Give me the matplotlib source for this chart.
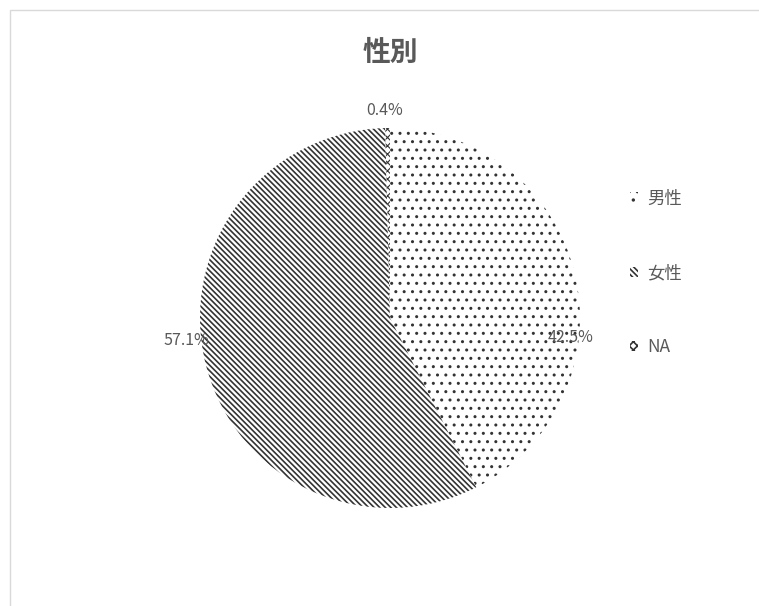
import matplotlib.pyplot as plt
import matplotlib.patches as mpatches

plt.rcParams['font.family'] = ['Noto Sans CJK JP', 'DejaVu Sans']
plt.rcParams['hatch.linewidth'] = 1.2

title = "性別"
labels = ["男性", "女性", "NA"]
values = [42.5, 57.1, 0.4]
pct_text = ["42.5%", "57.1%", "0.4%"]
hatches = ["..", "\\" * 6, "xxxx"]
hatch_lw = [1.0, 1.2, 0.8]
# where Excel put each data label (data units, radius = 1)
label_pos = [(0.95, -0.1), (-1.07, -0.12), (-0.03, 1.09)]

grey = "#595959"

fig = plt.figure(figsize=(7.59, 6.06), dpi=100)
fig.patches.append(mpatches.Rectangle((10 / 759, -0.05), 1.0, 1 - 10 / 606 + 0.05,
                                      transform=fig.transFigure, fill=False,
                                      edgecolor="#d9d9d9", linewidth=1))

ax = fig.add_axes([200 / 759, 98 / 606, 380 / 759, 380 / 606])
wedges, _ = ax.pie(values, startangle=90, counterclock=False, radius=1,
                   colors=["white"] * len(values),
                   wedgeprops=dict(edgecolor="white", linewidth=1))
for w, h, lw in zip(wedges, hatches, hatch_lw):
    w.set_hatch(h)
    w.set_edgecolor("#333333")
    w.set_linewidth(0)
    if hasattr(w, "set_hatch_linewidth"):
        w.set_hatch_linewidth(lw)
ax.set_xlim(-1, 1)
ax.set_ylim(-1, 1)
ax.set_aspect("equal")
ax.axis("off")

for (x, y), t in zip(label_pos, pct_text):
    ax.text(x, y, t, ha="center", va="center", fontsize=11.5, color=grey)

fig.text(390 / 759, 1 - 53 / 606, title, ha="center", va="center",
         fontsize=20, fontweight="bold", color=grey)

handles = [mpatches.Patch(facecolor="white", edgecolor="#333333", linewidth=0, hatch=h)
           for h in hatches]
fig.legend(handles, labels, loc="center left", bbox_to_anchor=(614 / 759, 1 - 273 / 606),
           frameon=False, fontsize=12.5, labelcolor=grey, handlelength=0.5,
           handleheight=0.5, handletextpad=0.5, labelspacing=3.25)

fig.savefig("out.png", dpi=100)
plt.close(fig)
